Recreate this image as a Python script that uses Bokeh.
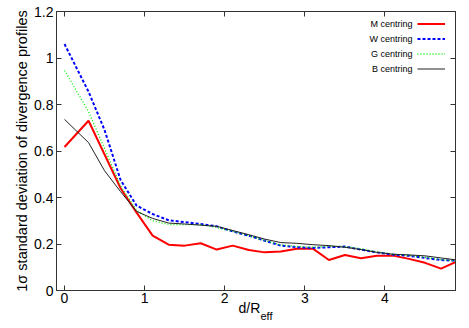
from bokeh.plotting import figure
from bokeh.models import (Range1d, FixedTicker, LinearAxis, Legend, LegendItem,
                          Label, Title)
from bokeh.core.properties import value
from bokeh.embed import file_html
from bokeh.resources import INLINE

# ---- data -----------------------------------------------------------------
d_reff = [0.0, 0.3, 0.5, 0.7, 0.9, 1.1, 1.3, 1.5, 1.7, 1.9, 2.1, 2.3, 2.5,
          2.7, 2.9, 3.1, 3.3, 3.5, 3.7, 3.9, 4.1, 4.3, 4.5, 4.7, 4.9]
m_centring = [0.617, 0.730, 0.585, 0.440, 0.335, 0.236, 0.197, 0.193, 0.203,
              0.176, 0.193, 0.174, 0.164, 0.168, 0.180, 0.180, 0.131, 0.153,
              0.139, 0.149, 0.150, 0.136, 0.119, 0.094, 0.125]
w_centring = [1.060, 0.855, 0.690, 0.475, 0.365, 0.329, 0.302, 0.294, 0.286,
              0.276, 0.254, 0.236, 0.214, 0.193, 0.186, 0.183, 0.186, 0.189,
              0.176, 0.164, 0.154, 0.149, 0.140, 0.131, 0.128]
g_centring = [0.946, 0.770, 0.610, 0.450, 0.345, 0.300, 0.284, 0.283, 0.283,
              0.271, 0.254, 0.236, 0.214, 0.196, 0.190, 0.186, 0.190, 0.189,
              0.180, 0.166, 0.156, 0.151, 0.143, 0.133, 0.127]
b_centring = [0.736, 0.636, 0.515, 0.425, 0.340, 0.310, 0.290, 0.286, 0.281,
              0.276, 0.258, 0.240, 0.221, 0.206, 0.203, 0.197, 0.193, 0.186,
              0.176, 0.164, 0.156, 0.153, 0.149, 0.140, 0.131]

series_labels = ["M centring", "W centring", "G centring", "B centring"]

x_ticks = [0, 1, 2, 3, 4]
x_tick_labels = ["0", "1", "2", "3", "4"]
y_ticks = [0, 0.2, 0.4, 0.6, 0.8, 1.0, 1.2]
y_tick_labels = ["0", "0.2", "0.4", "0.6", "0.8", "1", "1.2"]

y_title = "1\u03c3 standard deviation of divergence profiles"
x_title_main = "d/R"
x_title_sub = "eff"

# ---- figure ---------------------------------------------------------------
FONT = "Liberation Sans"
FRAME = "#333333"

p = figure(width=469, height=328, output_backend="svg", toolbar_location=None,
           x_range=Range1d(-0.1, 4.88), y_range=Range1d(0, 1.2),
           min_border_left=56, min_border_right=14, min_border_top=11,
           min_border_bottom=38)
p.outline_line_color = FRAME
p.outline_line_width = 1
p.xgrid.visible = False
p.ygrid.visible = False
p.background_fill_color = "white"
p.border_fill_color = "white"

def style_axis(ax, ticks, labels, show_labels=True):
    ax.ticker = FixedTicker(ticks=ticks)
    ax.major_label_overrides = {t: l for t, l in zip(ticks, labels)}
    ax.major_tick_in = 5
    ax.major_tick_out = 0
    ax.minor_tick_line_color = None
    ax.major_tick_line_color = FRAME
    ax.axis_line_color = FRAME
    ax.major_label_text_font = FONT
    ax.major_label_text_color = "#000000"
    if show_labels:
        ax.major_label_text_font_size = "14px"
    else:
        ax.major_label_text_font_size = "0px"
        ax.major_label_text_color = None
        ax.major_label_standoff = 0

style_axis(p.xaxis[0], x_ticks, x_tick_labels)
p.xaxis[0].major_label_standoff = 2
style_axis(p.yaxis[0], y_ticks, y_tick_labels)
p.yaxis[0].major_label_standoff = 3
p.yaxis[0].axis_label = y_title
p.yaxis[0].axis_label_text_font = FONT
p.yaxis[0].axis_label_text_font_size = "14.5px"
p.yaxis[0].axis_label_text_font_style = "normal"
p.yaxis[0].axis_label_text_color = "#000000"
p.yaxis[0].axis_label_standoff = 1

top_ax = LinearAxis()
style_axis(top_ax, x_ticks, x_tick_labels, show_labels=False)
p.add_layout(top_ax, "above")
right_ax = LinearAxis()
style_axis(right_ax, y_ticks, y_tick_labels, show_labels=False)
p.add_layout(right_ax, "right")

# ---- lines ----------------------------------------------------------------
r_m = p.line(d_reff, m_centring, line_color="#ff0000", line_width=2)
r_w = p.line(d_reff, w_centring, line_color="#0000ff", line_width=2,
             line_dash="3 2")
r_g = p.line(d_reff, g_centring, line_color="#00ee00", line_width=1.3,
             line_dash="1 2")
r_b = p.line(d_reff, b_centring, line_color="#222222", line_width=1)

# legend: glyph samples from Bokeh's legend, label texts right-aligned before them
legend = Legend(items=[LegendItem(label=value(""), renderers=[r])
                       for r in (r_m, r_w, r_g, r_b)],
                location=(361, 214), border_line_color=None,
                background_fill_alpha=0, label_text_font=FONT,
                label_text_font_size="9px", label_text_color=None,
                glyph_width=28, glyph_height=15, label_height=15,
                label_width=0, label_standoff=0, spacing=0, padding=0,
                margin=0)
p.add_layout(legend)

for i, lab in enumerate(series_labels):
    p.add_layout(Label(x=356, y=267 - 15.3 * i, x_units="screen",
                       y_units="screen", text=lab, text_align="right",
                       text_baseline="middle", text_font=FONT,
                       text_font_size="9px", text_color="#000000"))

# ---- x axis title with subscript (two titles below the axis) ---------------
t_main = Title(text=x_title_main, align="left", offset=182, standoff=-11,
               vertical_align="top", text_font=FONT, text_font_size="14px",
               text_font_style="normal", text_color="#000000")
t_sub = Title(text=x_title_sub, align="left", offset=204, standoff=-6,
              vertical_align="top", text_font=FONT, text_font_size="11px",
              text_font_style="normal", text_color="#000000")
p.add_layout(t_main, "below")
p.add_layout(t_sub, "below")

open("out.html", "w").write(file_html(p, INLINE))
